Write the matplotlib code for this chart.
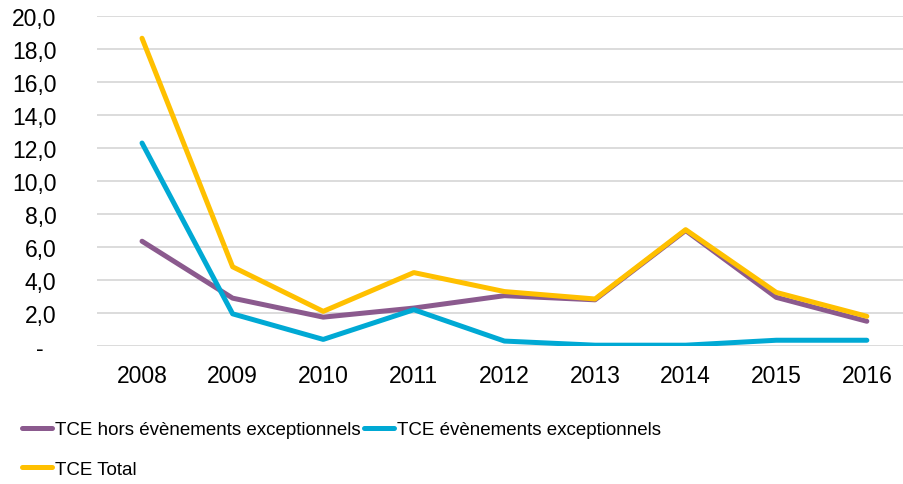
import matplotlib.pyplot as plt

years = ["2008", "2009", "2010", "2011", "2012", "2013", "2014", "2015", "2016"]
hors_exc = [6.35, 2.9, 1.75, 2.3, 3.05, 2.8, 7.0, 2.95, 1.5]
exc = [12.3, 1.95, 0.4, 2.2, 0.3, 0.05, 0.05, 0.35, 0.35]
total = [18.65, 4.8, 2.1, 4.45, 3.3, 2.85, 7.05, 3.25, 1.8]

yticks = [0, 2, 4, 6, 8, 10, 12, 14, 16, 18, 20]
ylabels = ["-  "] + ["%d,0" % v for v in yticks[1:]]

plt.rcParams["font.family"] = ["Liberation Sans", "DejaVu Sans"]

fig = plt.figure(figsize=(9.04, 4.85), dpi=100)
ax = fig.add_axes([0.107, 0.2845, 0.902, 0.6805])

x = range(len(years))
l1, = ax.plot(x, hors_exc, color="#8B5A8E", lw=3.6, solid_capstyle="round", label="TCE hors évènements exceptionnels")
l2, = ax.plot(x, exc, color="#00A9D4", lw=3.6, solid_capstyle="round", label="TCE évènements exceptionnels")
l3, = ax.plot(x, total, color="#FFC000", lw=3.6, solid_capstyle="round", label="TCE Total")

ax.set_xlim(-0.5, 8.5)
ax.set_ylim(0, 20)
ax.set_xticks(list(x))
ax.set_xticklabels(years)
ax.set_yticks(yticks)
ax.set_yticklabels(ylabels)
ax.tick_params(length=0, labelsize=16.5, colors="#000000")
ax.tick_params(axis="x", pad=13)
ax.tick_params(axis="y", pad=29)
ax.grid(axis="y", color="#d9d9d9", lw=1.3)
ax.set_axisbelow(True)
for s in ax.spines.values():
    s.set_visible(False)

# legend entries reordered so they read row by row
leg = fig.legend([l1, l3, l2], [l1.get_label(), l3.get_label(), l2.get_label()],
                 loc="upper left", bbox_to_anchor=(0.0243, 0.130), ncol=2, frameon=False,
                 handlelength=1.6, handletextpad=0.15, columnspacing=0.2, labelspacing=1.21,
                 prop={"size": 13.5}, borderaxespad=0, borderpad=0)

fig.savefig("out.png", dpi=100)
